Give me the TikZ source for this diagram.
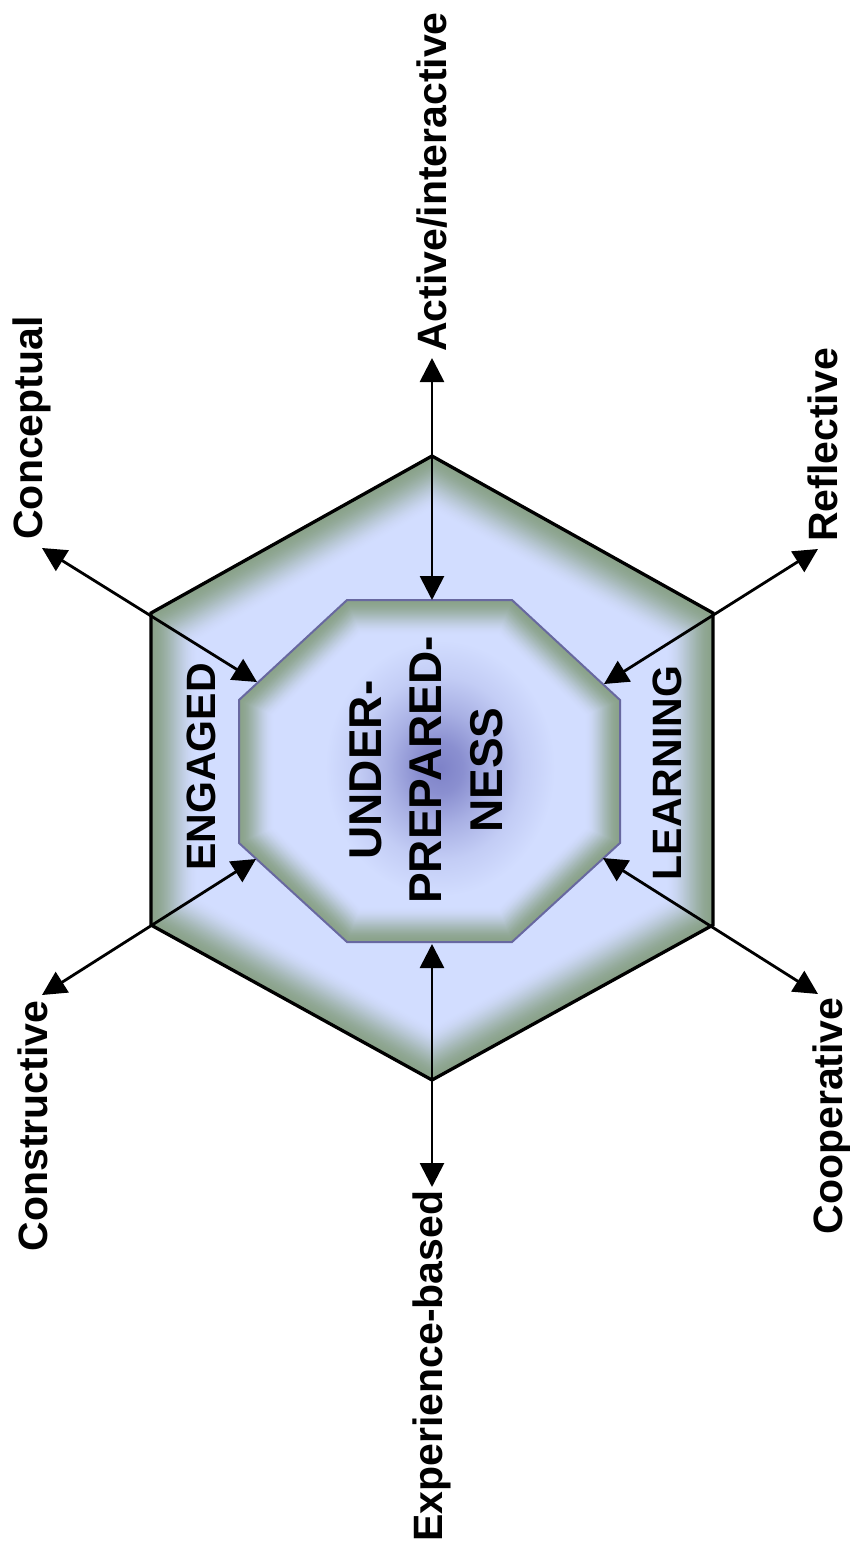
\documentclass[tikz,border=0pt]{standalone}
\usepackage{fontspec}
\setmainfont{Liberation Sans}
\usetikzlibrary{arrows.meta}

\definecolor{paleblue}{RGB}{210,221,255}
\definecolor{edgegreen}{RGB}{138,162,138}
\definecolor{glowblue}{RGB}{126,130,200}
\definecolor{octline}{RGB}{104,104,160}

% soft purple glow behind the core text
\pgfdeclareradialshading{coreglow}{\pgfpointorigin}{%
  color(0bp)=(glowblue); color(5bp)=(glowblue!85!paleblue);
  color(11bp)=(glowblue!50!paleblue); color(18bp)=(glowblue!18!paleblue);
  color(25bp)=(paleblue); color(50bp)=(paleblue)}

\tikzset{
  lab/.style={rotate=90, anchor=base, inner sep=0pt,
    font=\bfseries\fontsize{41}{49}\selectfont},
  core/.style={rotate=90, anchor=center, inner sep=0pt, align=center,
    font=\bfseries\fontsize{46}{60.5}\selectfont},
  conn/.style={line width=2.8pt,
    {Triangle[length=24pt,width=24pt]}-{Triangle[length=24pt,width=24pt]}},
  hexline/.style={draw=black, line width=3.3pt, line join=miter},
  octedge/.style={draw=octline, line width=2pt, line join=miter},
}

\begin{document}
\begin{tikzpicture}[x=1pt,y=-1pt]
\useasboundingbox[fill=white] (0,0) rectangle (850,1551);

% hexagon corners
\coordinate (h1) at (432,456);
\coordinate (h2) at (713,613);
\coordinate (h3) at (713,925);
\coordinate (h4) at (432,1080);
\coordinate (h5) at (151,925);
\coordinate (h6) at (151,613);
% octagon corners
\coordinate (o1) at (347,600);
\coordinate (o2) at (512,600);
\coordinate (o3) at (620,700);
\coordinate (o4) at (620,843);
\coordinate (o5) at (512,942);
\coordinate (o6) at (347,942);
\coordinate (o7) at (239,843);
\coordinate (o8) at (239,700);

% hexagon body with soft green rim
\begin{scope}
  \clip (h1)--(h2)--(h3)--(h4)--(h5)--(h6)--cycle;
  \fill[paleblue] (h1)--(h2)--(h3)--(h4)--(h5)--(h6)--cycle;
  \foreach \k in {0,...,39}{
    \pgfmathsetmacro{\u}{\k/40}
    \pgfmathsetmacro{\dist}{48*(1-\u)}
    \pgfmathsetmacro{\mix}{100*(3*\u*\u-2*\u*\u*\u)}
    \draw[line width=2*\dist pt, color=edgegreen!\mix!paleblue]
      (h1)--(h2)--(h3)--(h4)--(h5)--(h6)--cycle;
  }
\end{scope}
\draw[hexline] (h1)--(h2)--(h3)--(h4)--(h5)--(h6)--cycle;

% octagon body: glow in the middle, green rim at the border
\begin{scope}
  \clip (o1)--(o2)--(o3)--(o4)--(o5)--(o6)--(o7)--(o8)--cycle;
  \fill[paleblue] (o1)--(o2)--(o3)--(o4)--(o5)--(o6)--(o7)--(o8)--cycle;
  \shade[shading=coreglow] (440,768) ellipse (115 and 128);
  \foreach \k in {0,...,39}{
    \pgfmathsetmacro{\u}{\k/40}
    \pgfmathsetmacro{\dist}{36*(1-\u)}
    \pgfmathsetmacro{\mix}{100*(3*\u*\u-2*\u*\u*\u)}
    \draw[line width=2*\dist pt, color=edgegreen!\mix!paleblue]
      (o1)--(o2)--(o3)--(o4)--(o5)--(o6)--(o7)--(o8)--cycle;
  }
\end{scope}
\draw[octedge] (o1)--(o2)--(o3)--(o4)--(o5)--(o6)--(o7)--(o8)--cycle;

% connector end points
\coordinate (tOut) at (432,358);
\coordinate (tIn)  at (432,600);
\coordinate (bOut) at (432,1187);
\coordinate (bIn)  at (432,944);
\coordinate (ulOut) at (42,548);
\coordinate (ulIn)  at (257,682);
\coordinate (llOut) at (42,995);
\coordinate (llIn)  at (256,859);
\coordinate (urOut) at (818,549);
\coordinate (urIn)  at (604,684);
\coordinate (lrOut) at (818,994);
\coordinate (lrIn)  at (603,858);

\draw[conn] (tOut) -- (tIn);
\draw[conn] (bOut) -- (bIn);
\draw[conn] (ulOut) -- (ulIn);
\draw[conn] (llOut) -- (llIn);
\draw[conn] (urOut) -- (urIn);
\draw[conn] (lrOut) -- (lrIn);

% labels
\node[lab] (conc) at (42,428) {Conceptual};
\node[lab] (refl) at (837,445) {Reflective};
\node[lab] (cons) at (47,1126) {Constructive};
\node[lab] (coop) at (842,1116) {Cooperative};
\node[lab] (act)  at (446,182) {Active/interactive};
\node[lab] (expb) at (442,1366) {Experience-based};
\node[lab] (eng)  at (215,767) {ENGAGED};
\node[lab] (lrn)  at (681,773) {LEARNING};
\node[core] (up) at (426,770) {UNDER-\\PREPARED-\\NESS};
\end{tikzpicture}
\end{document}
